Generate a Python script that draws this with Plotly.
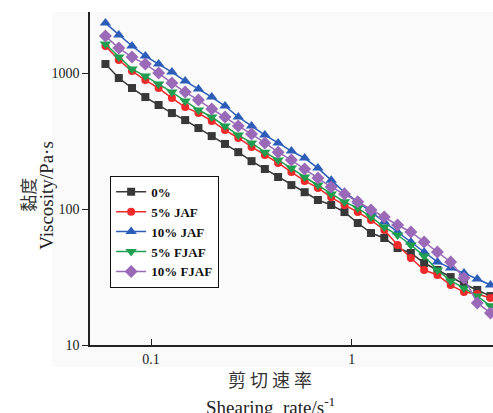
import plotly.graph_objects as go

# Shear rate sweep (s^-1)
shear_rate = [0.0593, 0.0691, 0.0804, 0.0937, 0.1091, 0.1271, 0.1480, 0.1723, 0.2007, 0.2337,
              0.2721, 0.3169, 0.3691, 0.4298, 0.5005, 0.5828, 0.6787, 0.7903, 0.9204, 1.072,
              1.248, 1.453, 1.692, 1.971, 2.295, 2.673, 3.112, 3.625, 4.221, 4.915]

# Viscosity (Pa·s) of each formulation
visc_0 = [1165, 919, 776, 666, 582, 508, 451, 394, 344, 301, 262, 225, 197, 172, 150,
          133, 116.5, 107, 95, 78.9, 66.6, 61.2, 51.7, 47.5, 40.1, 35.6, 31.6, 28.1, 25.4, 22.9]
visc_5jaf = [1580, 1246, 1034, 888, 776, 655, 562, 508, 444, 381, 333, 286, 250, 218, 187,
             161, 143, 122, 107, 95, 83.0, 70.1, 54.4, 43.6, 35.6, 32.7, 27.6, 24.5, 23.7, 22.2]
visc_10jaf = [2331, 1903, 1580, 1334, 1165, 1017, 873, 763, 666, 572, 475, 408, 350, 306, 267,
              237, 200, 163, 133, 113, 95, 80.2, 67.8, 57.2, 48.3, 40.8, 36.8, 33.8, 30.6, 27.6]
visc_5fjaf = [1634, 1311, 1070, 950, 830, 725, 623, 535, 475, 408, 350, 306, 262, 229, 200,
              172, 150, 129, 113, 101.7, 87.4, 73.7, 64.4, 54.4, 45.1, 35.6, 29.6, 26.3, 22.9, 19.4]
visc_10fjaf = [1870, 1527, 1311, 1165, 1000, 844, 725, 633, 544, 475, 408, 356, 306, 262, 229,
               197, 169, 145, 129, 113, 98.3, 87.4, 76.3, 67.8, 57.2, 48.3, 40.8, 31.1, 20.4, 17.2]

series_names = ["0%", "5% JAF", "10% JAF", "5% FJAF", "10% FJAF"]
series_values = [visc_0, visc_5jaf, visc_10jaf, visc_5fjaf, visc_10fjaf]
colors = ["#383838", "#ee2a2a", "#2a5cb8", "#1f9e4f", "#9a6ab8"]
symbols = ["square", "circle", "triangle-up", "triangle-down", "diamond"]
sizes = [8, 8, 10, 10, 10]

x_ticks = [0.1, 1]
x_ticktext = ["0.1", "1"]
y_ticks = [10, 100, 1000]
y_ticktext = ["10", "100", "1000"]

serif = "Liberation Serif, Times New Roman, serif"
cjk = "Noto Sans CJK SC"

fig = go.Figure()
for name, vals, col, sym, sz in zip(series_names, series_values, colors, symbols, sizes):
    fig.add_trace(go.Scatter(
        x=shear_rate, y=vals, name=name, mode="lines+markers",
        line=dict(color=col, width=1.5),
        marker=dict(symbol=sym, size=sz, color=col),
    ))

fig.update_layout(
    width=493, height=413,
    margin=dict(l=90, r=0, t=12, b=68),
    paper_bgcolor="white",
    plot_bgcolor="#fafafa",
    font=dict(family=serif, size=14, color="#222"),
    showlegend=True,
    legend=dict(
        x=0.05, y=0.508, xanchor="left", yanchor="top",
        bgcolor="white", bordercolor="#111", borderwidth=1,
        font=dict(family=serif, size=13, color="#111", weight="bold"),
        itemwidth=30, tracegroupgap=0,
    ),
    shapes=[dict(type="rect", xref="paper", yref="paper",
                 x0=-0.094, x1=1.0, y0=-0.066, y1=1.0,
                 fillcolor="#fafafa", line=dict(width=0), layer="below")],
    annotations=[
        dict(text="黏度", xref="paper", yref="paper", x=-0.155, y=0.45,
             textangle=-90, showarrow=False, xanchor="center", yanchor="middle",
             font=dict(family=cjk, size=17, color="#333")),
        dict(text="Viscosity/Pa·s", xref="paper", yref="paper", x=-0.11, y=0.45,
             textangle=-90, showarrow=False, xanchor="center", yanchor="middle",
             font=dict(family=serif, size=19, color="#222")),
        dict(text="剪 切 速 率", xref="paper", yref="paper", x=0.447, y=-0.102,
             showarrow=False, xanchor="center", yanchor="middle",
             font=dict(family=cjk, size=18, color="#333")),
        dict(text="Shearing  rate/s<sup>-1</sup>", xref="paper", yref="paper", x=0.449, y=-0.183,
             showarrow=False, xanchor="center", yanchor="middle",
             font=dict(family=serif, size=19, color="#222")),
    ],
)

fig.update_xaxes(
    type="log", range=[-1.304, 0.704],
    tickvals=x_ticks, ticktext=x_ticktext,
    ticks="inside", ticklen=6, tickwidth=1.2, tickcolor="#222",
    showline=True, linecolor="#222", linewidth=1.5,
    showgrid=False, zeroline=False, mirror=False,
    tickfont=dict(family=serif, size=14, color="#222"),
)
fig.update_yaxes(
    type="log", range=[1, 3.449],
    tickvals=y_ticks, ticktext=y_ticktext,
    ticks="outside", ticklen=6, tickwidth=1.2, tickcolor="#222",
    showline=True, linecolor="#222", linewidth=1.5,
    showgrid=False, zeroline=False, mirror=False,
    tickfont=dict(family=serif, size=14, color="#222"),
)

fig.write_html("out.html")
